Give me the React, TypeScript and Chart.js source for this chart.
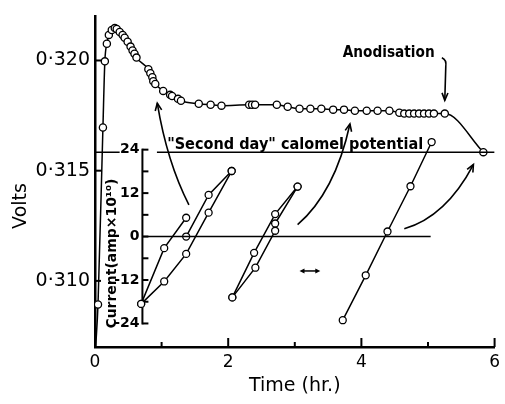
import React, { useEffect, useRef } from 'react';
import { Chart, registerables } from 'chart.js';

Chart.register(...registerables);

const FONT = "'DejaVu Sans', sans-serif";

// ---------- Main potential curve (time in hr, volts) ----------
const mainTime = [
  0.01, 0.045, 0.119, 0.148, 0.178, 0.208, 0.252, 0.297, 0.326, 0.371,
  0.415, 0.445, 0.49, 0.534, 0.564, 0.593, 0.623, 0.801, 0.831, 0.861,
  0.875, 0.905, 1.024, 1.128, 1.157, 1.246, 1.291, 1.558, 1.736, 1.899,
  2.315, 2.359, 2.404, 2.73, 2.893, 3.071, 3.234, 3.398, 3.576, 3.739,
  3.902, 4.08, 4.243, 4.421, 4.57, 4.644, 4.718, 4.792, 4.866, 4.941,
  5.015, 5.089, 5.252, 5.831,
];
const mainVolts = [
  0.307, 0.30893, 0.31696, 0.31996, 0.32076, 0.32116, 0.32138, 0.32147, 0.32143, 0.32129,
  0.32116, 0.32103, 0.32085, 0.32063, 0.32045, 0.32031, 0.32013, 0.3196, 0.31942, 0.31924,
  0.31906, 0.31893, 0.31862, 0.31844, 0.31839, 0.31826, 0.31817, 0.31804, 0.31799, 0.31795,
  0.31799, 0.31799, 0.31799, 0.31799, 0.3179, 0.31781, 0.31781, 0.31781, 0.31777, 0.31777,
  0.31772, 0.31772, 0.31772, 0.31772, 0.31763, 0.31759, 0.31759, 0.31759, 0.31759, 0.31759,
  0.31759, 0.31759, 0.31759, 0.31584,
];

// "Second day" calomel potential (volts) and its two drawn stretches (hr)
const calomelVolts = 0.31584;
const calomelSegA = [0, 0.37];
const calomelSegB = [0.93, 6.0];

// ---------- Inset: current (amp x 10^10) ----------
const insetA1Time = [0.693, 1.039, 1.369];
const insetA1Current = [-18.6, -3.2, 5.2];
const insetA2Time = [0.693, 1.039, 1.369, 1.706, 2.052];
const insetA2Current = [-18.6, -12.4, -4.8, 6.6, 18.1];
const insetA3Time = [1.369, 1.706, 2.052];
const insetA3Current = [0, 11.5, 18.1];
const insetB1Time = [2.062, 2.389, 2.705, 3.042];
const insetB1Current = [-16.8, -4.5, 6.2, 13.8];
const insetB2Time = [2.062, 2.408, 2.705, 2.705, 3.042];
const insetB2Current = [-16.8, -8.6, 1.6, 3.6, 13.8];
const insetCTime = [3.72, 4.065, 4.392, 4.737, 5.055];
const insetCCurrent = [-23.1, -10.7, 1.4, 13.9, 26.1];

const insetAxisTime = 0.712;
const insetZeroLine = [0.712, 5.04];
const insetTickValues = [-24, -18, -12, -6, 0, 6, 12, 18, 24];
const insetLabelValues = [24, 12, 0, -12, -24];
const insetLabels = ['24', '12', '0', '-12', '-24'];

// ---------- Main axes ----------
const xTickValues = [0, 1, 2, 3, 4, 5, 6];
const xTickLabels = ['0', '', '2', '', '4', '', '6'];
const yTickValues = [0.31, 0.315, 0.32];
const yTickLabels = ['0·310', '0·315', '0·320'];

// annotation arrows, in data units (time, volts)
const curvedArrows = [
  { from: [1.41, 0.31345], ctrl: [1.083, 0.31537], to: [0.935, 0.31806] },
  { from: [3.042, 0.31255], ctrl: [3.605, 0.31403], to: [3.828, 0.31712] },
  { from: [4.644, 0.31237], ctrl: [5.267, 0.31291], to: [5.682, 0.31528] },
];
const anodArrow = { start: [5.208, 0.32012], ctrl: [5.282, 0.32003], bend: [5.267, 0.31972], tip: [5.252, 0.31819] };
const anodText = { t: 4.41, v: 0.32034 };
const doubleArrow = { t1: 3.071, t2: 3.383, v: 0.31045 };
const calomelTextTime = 1.083;

const pts = (xs: number[], ys: number[]) => xs.map((x, i) => ({ x, y: ys[i] }));

function seg(ctx: CanvasRenderingContext2D, x1: number, y1: number, x2: number, y2: number) {
  ctx.beginPath();
  ctx.moveTo(x1, y1);
  ctx.lineTo(x2, y2);
  ctx.stroke();
}

function openHead(ctx: CanvasRenderingContext2D, tx: number, ty: number, fx: number, fy: number, len = 8, ang = 0.42) {
  const a = Math.atan2(ty - fy, tx - fx);
  ctx.beginPath();
  ctx.moveTo(tx - len * Math.cos(a - ang), ty - len * Math.sin(a - ang));
  ctx.lineTo(tx, ty);
  ctx.lineTo(tx - len * Math.cos(a + ang), ty - len * Math.sin(a + ang));
  ctx.stroke();
}

function filledHead(ctx: CanvasRenderingContext2D, tx: number, ty: number, dir: number, len = 5, half = 2.5) {
  ctx.beginPath();
  ctx.moveTo(tx, ty);
  ctx.lineTo(tx - dir * len, ty - half);
  ctx.lineTo(tx - dir * len, ty + half);
  ctx.closePath();
  ctx.fill();
}

const annotate = {
  id: 'annotate',
  beforeDatasetsDraw(chart: any) {
    const { ctx, chartArea } = chart;
    const { x, y, y2 } = chart.scales;
    ctx.save();
    ctx.strokeStyle = '#000';
    ctx.fillStyle = '#000';
    ctx.lineCap = 'butt';
    // main axis ticks (inward)
    ctx.lineWidth = 2;
    xTickValues.forEach((v) => {
      const px = x.getPixelForValue(v);
      const len = v % 2 === 0 ? 9 : 5;
      seg(ctx, px, chartArea.bottom, px, chartArea.bottom - len);
    });
    yTickValues.forEach((v) => {
      const py = y.getPixelForValue(v);
      seg(ctx, chartArea.left, py, chartArea.left + 6, py);
    });
    // inset axis
    const ax = x.getPixelForValue(insetAxisTime);
    const top = y2.getPixelForValue(24);
    const bot = y2.getPixelForValue(-24);
    ctx.lineWidth = 2;
    seg(ctx, ax, top - 1, ax, bot + 1);
    insetTickValues.forEach((c) => {
      const py = y2.getPixelForValue(c);
      seg(ctx, ax, py, ax + 6, py);
    });
    ctx.font = `bold 14px ${FONT}`;
    ctx.textAlign = 'right';
    ctx.textBaseline = 'middle';
    insetLabelValues.forEach((c, i) => {
      ctx.fillText(insetLabels[i], ax - 3, y2.getPixelForValue(c));
    });
    // inset axis title
    ctx.save();
    ctx.translate(ax - 30, y2.getPixelForValue(0) + 17);
    ctx.rotate(-Math.PI / 2);
    ctx.textAlign = 'center';
    ctx.textBaseline = 'middle';
    ctx.font = `bold 14px ${FONT}`;
    ctx.fillText('Current(amp×10¹⁰)', 0, 0, 150);
    ctx.restore();
    ctx.restore();
  },
  afterDatasetsDraw(chart: any) {
    const { ctx, chartArea } = chart;
    const { x, y } = chart.scales;
    ctx.save();
    ctx.strokeStyle = '#000';
    ctx.fillStyle = '#000';
    ctx.lineWidth = 1.6;
    // curved arrows from inset to main curve
    curvedArrows.forEach((a) => {
      const sx = x.getPixelForValue(a.from[0]);
      const sy = y.getPixelForValue(a.from[1]);
      const cx = x.getPixelForValue(a.ctrl[0]);
      const cy = y.getPixelForValue(a.ctrl[1]);
      const ex = x.getPixelForValue(a.to[0]);
      const ey = y.getPixelForValue(a.to[1]);
      ctx.beginPath();
      ctx.moveTo(sx, sy);
      ctx.quadraticCurveTo(cx, cy, ex, ey);
      ctx.stroke();
      openHead(ctx, ex, ey, cx, cy);
    });
    // anodisation arrow
    {
      const p = (q: number[]) => [x.getPixelForValue(q[0]), y.getPixelForValue(q[1])];
      const s = p(anodArrow.start);
      const c = p(anodArrow.ctrl);
      const b = p(anodArrow.bend);
      const t = p(anodArrow.tip);
      ctx.beginPath();
      ctx.moveTo(s[0], s[1]);
      ctx.quadraticCurveTo(c[0], c[1], b[0], b[1]);
      ctx.lineTo(t[0], t[1]);
      ctx.stroke();
      openHead(ctx, t[0], t[1], b[0], b[1], 8, 0.38);
      ctx.font = `bold 15px ${FONT}`;
      ctx.textAlign = 'center';
      ctx.textBaseline = 'middle';
      ctx.fillText('Anodisation', x.getPixelForValue(anodText.t), y.getPixelForValue(anodText.v), 92);
    }
    // double arrow
    {
      const x1 = x.getPixelForValue(doubleArrow.t1);
      const x2 = x.getPixelForValue(doubleArrow.t2);
      const yy = y.getPixelForValue(doubleArrow.v);
      ctx.lineWidth = 1.5;
      seg(ctx, x1 + 3, yy, x2 - 3, yy);
      filledHead(ctx, x2, yy, 1);
      filledHead(ctx, x1, yy, -1);
    }
    // calomel text
    ctx.font = `bold 15px ${FONT}`;
    ctx.textAlign = 'left';
    ctx.textBaseline = 'alphabetic';
    ctx.fillText('"Second day" calomel potential', x.getPixelForValue(calomelTextTime), y.getPixelForValue(calomelVolts) - 3, 256);
    // Volts title
    ctx.save();
    ctx.translate(chartArea.left - 74, 206);
    ctx.rotate(-Math.PI / 2);
    ctx.font = `19px ${FONT}`;
    ctx.textAlign = 'center';
    ctx.textBaseline = 'middle';
    ctx.fillText('Volts', 0, 0);
    ctx.restore();
    ctx.restore();
  },
};

export default function App() {
  const ref = useRef<HTMLCanvasElement | null>(null);
  useEffect(() => {
    if (!ref.current) return;
    Chart.defaults.font.family = FONT;
    Chart.defaults.color = '#000';
    const circle = {
      pointRadius: 3.5,
      pointBackgroundColor: '#fff',
      pointBorderColor: '#000',
      pointBorderWidth: 1.3,
      borderColor: '#000',
      borderWidth: 1.5,
      fill: false,
    };
    const plain = { pointRadius: 0, borderColor: '#000', borderWidth: 1.5, fill: false };
    const chart = new Chart(ref.current, {
      type: 'line',
      data: {
        datasets: [
          { ...plain, data: pts(calomelSegA, [calomelVolts, calomelVolts]), yAxisID: 'y' },
          { ...plain, data: pts(calomelSegB, [calomelVolts, calomelVolts]), yAxisID: 'y' },
          { ...plain, data: pts(insetZeroLine, [0, 0]), yAxisID: 'y2' },
          {
            ...circle,
            data: pts(mainTime, mainVolts),
            yAxisID: 'y',
            pointRadius: mainTime.map((_, i) => (i === 0 ? 0 : 3.6)),
            cubicInterpolationMode: 'monotone',
          },
          { ...circle, data: pts(insetA1Time, insetA1Current), yAxisID: 'y2' },
          { ...circle, data: pts(insetA2Time, insetA2Current), yAxisID: 'y2' },
          { ...circle, data: pts(insetA3Time, insetA3Current), yAxisID: 'y2' },
          { ...circle, data: pts(insetB1Time, insetB1Current), yAxisID: 'y2' },
          { ...circle, data: pts(insetB2Time, insetB2Current), yAxisID: 'y2' },
          { ...circle, data: pts(insetCTime, insetCCurrent), yAxisID: 'y2' },
        ] as any,
      },
      options: {
        animation: false,
        responsive: false,
        layout: { padding: { top: 12, right: 6, left: 0, bottom: 0 } },
        plugins: { legend: { display: false }, tooltip: { enabled: false } },
        scales: {
          x: {
            type: 'linear',
            min: 0,
            max: 6,
            afterBuildTicks: (s: any) => {
              s.ticks = xTickValues.map((v) => ({ value: v }));
            },
            ticks: {
              callback: (_v: any, i: number) => xTickLabels[i],
              font: { size: 17 },
              color: '#000',
              padding: 5,
              maxRotation: 0,
              autoSkip: false,
            },
            grid: { display: false, drawTicks: false },
            border: { display: true, width: 2.5, color: '#000' },
            title: { display: true, text: 'Time (hr.)', font: { size: 19 }, color: '#000', padding: { top: 0, bottom: 7 } },
            afterFit: (s: any) => {
              s.height = 57;
            },
          },
          y: {
            type: 'linear',
            min: 0.307,
            max: 0.322,
            afterBuildTicks: (s: any) => {
              s.ticks = yTickValues.map((v) => ({ value: v }));
            },
            ticks: {
              callback: (_v: any, i: number) => yTickLabels[i],
              font: { size: 19 },
              color: '#000',
              padding: 5,
              autoSkip: false,
            },
            grid: { display: false, drawTicks: false },
            border: { display: true, width: 2.5, color: '#000' },
            afterFit: (s: any) => {
              s.width = 95;
            },
          },
          y2: { type: 'linear', display: false, min: -30.5, max: 60.8 },
        },
      } as any,
      plugins: [annotate],
    });
    return () => chart.destroy();
  }, []);
  return (
    <div style={{ position: 'absolute', left: 0, top: 0, width: 505, height: 404, background: '#fff' }}>
      <canvas ref={ref} width={505} height={404} style={{ display: 'block' }} />
    </div>
  );
}
